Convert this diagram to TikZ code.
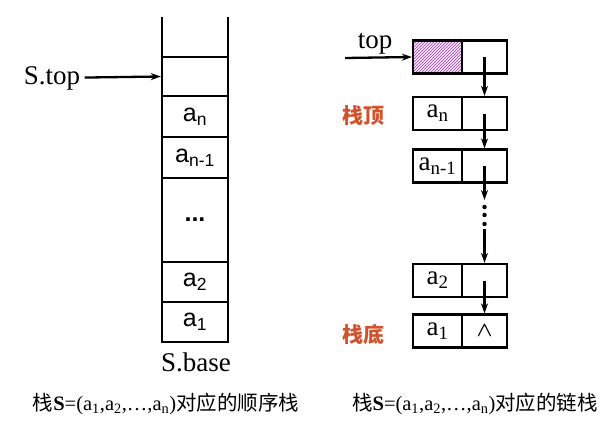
\documentclass[tikz,border=0pt]{standalone}
\usepackage{amsmath}
\usepackage{fontspec}
\setmainfont{Liberation Serif}
\setsansfont{Liberation Sans}
\newfontfamily\cjk{Noto Sans CJK SC}
\usetikzlibrary{arrows.meta,patterns}
\definecolor{hatchpurple}{HTML}{9A3FA8}
\definecolor{hatchbg}{HTML}{F6E6F8}
\definecolor{lblred}{HTML}{D0532E}
\newcommand{\bigtxt}{\fontsize{27}{31}\selectfont}
\begin{document}
\begin{tikzpicture}[x=1pt,y=-1pt,line width=2.3pt,>={Stealth[length=10pt,width=7pt]},
  sq/.style={draw,minimum width=66pt,inner sep=0pt,font=\sffamily\fontsize{25}{29}\selectfont},
  dat/.style={draw,minimum width=49pt,minimum height=33pt,inner sep=0pt,font=\bigtxt},
  ptr/.style={draw,minimum width=45pt,minimum height=33pt,inner sep=0pt,font=\bigtxt},
  lbl/.style={text=lblred,font=\cjk\bfseries\fontsize{21}{25}\selectfont},
  captxt/.style={font=\fontsize{20.5}{24}\selectfont}]
\useasboundingbox (0,0) rectangle (612,431);
% sequential stack
\draw (162,17) -- (162,57); \draw (228,17) -- (228,57);
\node[sq,minimum height=39pt] (c0) at (195,76.5) {};
\node[sq,minimum height=41pt] (c1) at (195,116.5) {a\textsubscript{n}};
\node[sq,minimum height=41pt] (c2) at (195,157.5) {a\textsubscript{n-1}};
\node[sq,minimum height=84pt] (c3) at (195,220) {\textbf{...}};
\node[sq,minimum height=40pt] (c4) at (195,282) {a\textsubscript{2}};
\node[sq,minimum height=40pt] (c5) at (195,322) {a\textsubscript{1}};
\node[font=\bigtxt] (stop) at (52,78) {S.top}; \draw[->] (stop) -- (c0.west);
\node[font=\bigtxt] (sbase) at (196,362) {S.base};
\node[captxt] (capl) at (166,404) {{\cjk 栈}\textbf{S}=(a\textsubscript{1},a\textsubscript{2},\ldots,a\textsubscript{n}){\cjk 对应的顺序栈}};
% linked stack
\node[dat,fill=hatchbg] (hdd) at (437.5,57) {};
\node[dat,pattern=north east lines,pattern color=hatchpurple] (hdh) at (437.5,57) {};
\node[ptr] (hdp) at (484.5,57) {};
\node[dat] (d1) at (437.5,113.5) {a\textsubscript{n}}; \node[ptr] (p1) at (484.5,113.5) {};
\node[dat] (d2) at (437.5,166) {a\textsubscript{n-1}}; \node[ptr] (p2) at (484.5,166) {};
\node[dat] (d3) at (437.5,280.5) {a\textsubscript{2}}; \node[ptr] (p3) at (484.5,280.5) {};
\node[dat] (d4) at (437.5,331) {a\textsubscript{1}}; \node[ptr,font=\fontsize{22}{26}\selectfont] (p4) at (484.5,331) {$\boldsymbol{\wedge}$};
\node[font=\bigtxt] (toplbl) at (375,44) {top}; \coordinate (toparr) at (345,58);
\draw[->] (toparr) -- (hdd.west);
\draw[->] (hdp.center) -- (p1.north); \draw[->] (p1.center) -- (p2.north);
\coordinate (gap1) at (484.5,200); \coordinate (gap2) at (484.5,229);
\draw[->] (p2.center) -- (gap1);
\foreach \y in {207,215,224} \fill (484.5,\y) circle (2.2pt);
\draw[->] (gap2) -- (p3.north); \draw[->] (p3.center) -- (p4.north);
\node[lbl] (ltop) at (363,116) {栈顶}; \node[lbl] (lbot) at (363,334) {栈底};
\node[captxt] (capr) at (475,404) {{\cjk 栈}\textbf{S}=(a\textsubscript{1},a\textsubscript{2},\ldots,a\textsubscript{n}){\cjk 对应的链栈}};
\end{tikzpicture}
\end{document}
